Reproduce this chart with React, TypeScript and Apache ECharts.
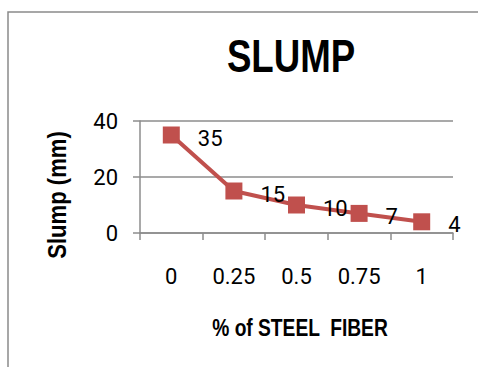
import React, { useEffect, useRef } from "react";
import * as echarts from "echarts";

const categories = ["0", "0.25", "0.5", "0.75", "1"];
const slumpValues = [35, 15, 10, 7, 4];
const yTicks = { min: 0, max: 40, interval: 20 };
const titleText = "SLUMP";
const xName = "% of STEEL  FIBER";
const yName = "Slump (mm)";

const BOLD = "'Liberation Sans', Arial, sans-serif";
const REG = "Roboto, 'Liberation Sans', sans-serif";

export default function App() {
  const ref = useRef<HTMLDivElement>(null);
  useEffect(() => {
    if (!ref.current) return;
    const chart = echarts.init(ref.current, null, { renderer: "svg" });
    chart.setOption({
      animation: false,
      backgroundColor: "#ffffff",
      graphic: [
        {
          type: "rect",
          shape: { x: 8, y: 12, width: 520, height: 420 },
          style: { fill: "none", stroke: "#8a8a8a", lineWidth: 1.5 },
          silent: true,
          z: -1,
        },
        {
          type: "text",
          x: 291,
          y: 56,
          scaleX: 0.78,
          style: {
            text: titleText,
            fontFamily: BOLD,
            fontWeight: "bold",
            fontSize: 47,
            fill: "#000",
            textAlign: "center",
            textVerticalAlign: "middle",
          },
        },
        {
          type: "text",
          x: 300,
          y: 328,
          scaleX: 0.8,
          style: {
            text: xName,
            fontFamily: BOLD,
            fontWeight: "bold",
            fontSize: 24,
            fill: "#000",
            textAlign: "center",
            textVerticalAlign: "middle",
          },
        },
        {
          type: "text",
          x: 57,
          y: 195,
          rotation: Math.PI / 2,
          scaleX: 0.85,
          style: {
            text: yName,
            fontFamily: BOLD,
            fontWeight: "bold",
            fontSize: 26,
            fill: "#000",
            textAlign: "center",
            textVerticalAlign: "middle",
          },
        },
      ],
      grid: { left: 140, right: 25, top: 121, bottom: 134, containLabel: false },
      xAxis: {
        type: "category",
        data: categories,
        boundaryGap: true,
        axisLine: { lineStyle: { color: "#8c8c8c", width: 1.5 } },
        axisTick: { show: true, alignWithLabel: false, length: 7, lineStyle: { color: "#8c8c8c", width: 1.5 } },
        axisLabel: { margin: 32, fontFamily: REG, fontSize: 22, color: "#000" },
        splitLine: { show: false },
      },
      yAxis: {
        type: "value",
        min: yTicks.min,
        max: yTicks.max,
        interval: yTicks.interval,
        axisLine: { show: true, lineStyle: { color: "#8c8c8c", width: 1.5 } },
        axisTick: { show: true, length: 7, lineStyle: { color: "#8c8c8c", width: 1.5 } },
        axisLabel: { margin: 22, fontFamily: REG, fontSize: 22, color: "#000" },
        splitLine: { show: true, lineStyle: { color: "#8c8c8c", width: 1.5 } },
      },
      series: [
        {
          type: "line",
          data: slumpValues,
          symbol: "rect",
          symbolSize: 17,
          lineStyle: { color: "#C0504D", width: 4 },
          itemStyle: { color: "#C0504D" },
          label: {
            show: true,
            position: "right",
            distance: 18,
            offset: [0, 3],
            fontFamily: REG,
            fontSize: 22,
            color: "#000",
          },
        },
      ],
    });
    return () => chart.dispose();
  }, []);
  return (
    <div
      ref={ref}
      style={{ position: "fixed", left: 0, top: 0, width: 478, height: 367 }}
    />
  );
}
